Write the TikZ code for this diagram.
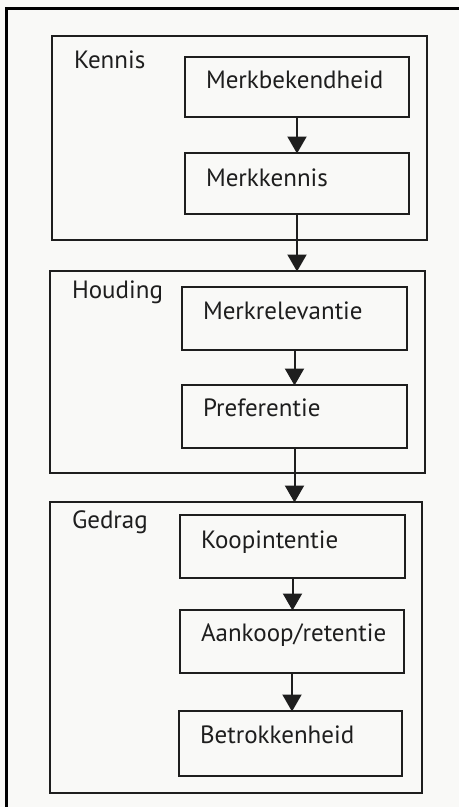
\documentclass[tikz,border=0pt]{standalone}
\usepackage{fontspec}
\setmainfont{PT Sans}
\usetikzlibrary{arrows.meta}
\definecolor{ink}{HTML}{1E1E1E}
\definecolor{paper}{HTML}{F9F9F7}
\begin{document}
\begin{tikzpicture}[x=1pt,y=-1pt,
  every node/.style={font=\fontsize{25}{29}\selectfont, text=ink},
  group/.style={draw=ink, line width=2.4pt, anchor=north west, inner ysep=0pt,
    inner xsep=22pt, align=left, outer sep=0pt},
  stage/.style={draw=ink, line width=2.4pt, anchor=north west, inner ysep=0pt,
    inner xsep=21pt, align=left, outer sep=0pt},
  flow/.style={draw=ink, line width=2pt, -{Triangle[width=19pt,length=17pt]}, shorten >=-0.5pt}
]
% page and its border
\fill[paper] (0,0) rectangle (459,807);
\useasboundingbox (0,0) rectangle (459,807);
\draw[black, line width=3pt] (6.5,807) -- (6.5,8) -- (459,8);

% the three groups
\node[group, text width=331pt, text height=32pt, text depth=172pt] (kennis) at (52,36) {Kennis};
\node[group, text width=331pt, text height=27pt, text depth=175pt] (houding) at (50,271) {Houding};
\node[group, text width=328pt, text height=26pt, text depth=265pt] (gedrag) at (50,502) {Gedrag};

% stages
\node[stage, text width=182pt, text height=31pt, text depth=29pt] (mb) at (185,57) {Merkbekendheid};
\node[stage, text width=182pt, text height=33pt, text depth=28pt] (mk) at (185,153) {Merkkennis};
\node[stage, text width=183pt, text height=32pt, text depth=31pt] (mr) at (182,287) {Merkrelevantie};
\node[stage, text width=183pt, text height=31pt, text depth=32pt] (pf) at (182,385) {Preferentie};
\node[stage, text width=183pt, text height=33pt, text depth=30pt] (ki) at (180,515) {Koopintentie};
\node[stage, text width=182pt, text height=31pt, text depth=32pt] (ak) at (180,610) {Aankoop/retentie};
\node[stage, text width=181pt, text height=32pt, text depth=33pt] (bk) at (179,711) {Betrokkenheid};

% connectors
\draw[flow] (mb.south) -- (mk.north);
\draw[flow] (mk.south) -- (mk.south |- houding.north);
\draw[flow] (mr.south) -- (pf.north);
\draw[flow] (pf.south) -- (pf.south |- gedrag.north);
\draw[flow] (ki.south) -- (ki.south |- ak.north);
\draw[flow] (ak.south) -- (ak.south |- bk.north);
\end{tikzpicture}
\end{document}
